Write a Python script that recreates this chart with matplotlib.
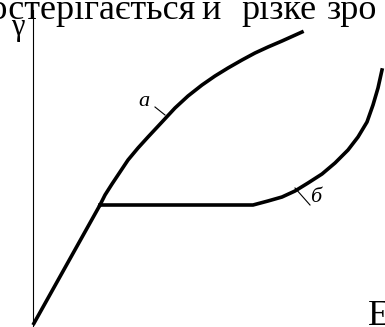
import matplotlib
matplotlib.use("Agg")
from matplotlib import pyplot as plt

# пружна ділянка
e_pruzh = [0, 67]
g_pruzh = [0, 120]

# крива а
e_a = [67, 72, 79, 87, 95, 105, 115, 129, 142, 155, 169, 182, 195, 209, 222, 235, 249, 269]
g_a = [120, 130, 141, 153, 165, 177, 188, 203, 217, 229, 240, 249, 257, 265, 272, 278, 284, 293]

# площадка + крива б
e_b = [67, 220, 235, 249, 262, 275, 289, 302, 315, 325, 334, 340, 345, 349]
g_b = [120, 120, 124, 128, 134, 142, 151, 162, 175, 188, 203, 220, 237, 255]

# підписи кривих
mitky = ["a", "б"]
mitka_xy = [(111, 223), (283, 127)]
vynoska_e = [[122, 132], [262, 277]]
vynoska_g = [[218, 210], [137, 120]]

# рядок тексту зверху (вирівняний по ширині, тому слова окремо)
slova = ["спостерігається", "й", "різке", "зро"]
slova_e = [163, 168, 208, 294]
slova_ha = ["right", "left", "left", "left"]

fig = plt.figure(figsize=(3.85, 3.27), dpi=100)
ax = fig.add_axes([0, 0, 1, 1])
ax.set_xlim(-33, 352)
ax.set_ylim(-2, 325)
ax.axis("off")

# вісь
ax.plot([0, 0], [-2, 315], color="black", lw=0.8)

ax.plot(e_pruzh, g_pruzh, color="black", lw=2.6, solid_capstyle="butt")
ax.plot(e_a, g_a, color="black", lw=2.6, solid_joinstyle="round")
ax.plot(e_b, g_b, color="black", lw=2.6, solid_joinstyle="round")

for i in range(len(mitky)):
        ax.plot(vynoska_e[i], vynoska_g[i], color="black", lw=0.8)
        ax.text(mitka_xy[i][0], mitka_xy[i][1], mitky[i], fontsize=16, style="italic",
                family="Liberation Serif", ha="center", va="center")

ax.text(-15, 298, "γ", fontsize=22, family="Liberation Serif", ha="center", va="center")
ax.text(335, 0, "E", fontsize=26, family="Liberation Serif", ha="left", va="baseline")

for i in range(len(slova)):
        ax.text(slova_e[i], 306, slova[i], fontsize=26, family="Liberation Serif",
                ha=slova_ha[i], va="baseline")

plt.savefig("out.png", dpi=100)
